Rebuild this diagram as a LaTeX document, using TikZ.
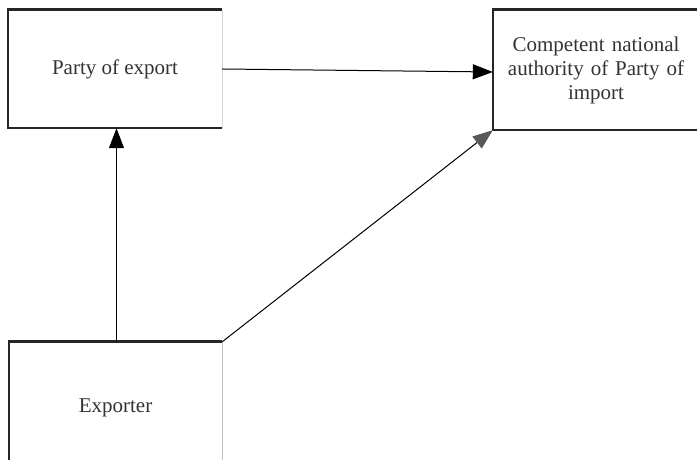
\documentclass[tikz,border=0pt]{standalone}
\usepackage{fontspec}
\setmainfont{Liberation Serif}
\usetikzlibrary{arrows.meta}
\begin{document}
\begin{tikzpicture}[x=1pt,y=1pt,
  box/.style={rectangle,inner sep=0pt,font=\fontsize{21}{24}\selectfont,text=black!80,align=center},
  border/.style={line width=2.6pt,black!85},
  conn/.style={line width=1pt,-{Triangle[length=20pt,width=15pt]}},
  gconn/.style={line width=1pt,-{Triangle[length=20pt,width=15pt,fill=black!65,color=black!65]}}]
\useasboundingbox (0,0) rectangle (697,460);
\clip (0,0) rectangle (697,460);
% Party of export: x 8..222, y 10..128
\node[box,minimum width=214pt,minimum height=118pt] (pe) at (115,391) {Party of export};
% Competent authority: x 493..697, y 10..130
\node[box,minimum width=206pt,minimum height=120pt,text width=200pt] (ca) at (596,390) {Competent national\\authority of Party of\\import};
% Exporter: x 9..222, y 342..474
\node[box,minimum width=213pt,minimum height=132pt] (ex) at (115.5,52) {Exporter};
% borders
\draw[border] (pe.north east) -- (pe.north west) -- (pe.south west) -- (pe.south east);
\draw[border] (ca.north east) -- (ca.north west) -- (ca.south west) -- (ca.south east);
\draw[border] (ex.south west) -- (ex.north west) -- (ex.north east);
\draw[line width=0.6pt,black!25] (ex.north east) -- (ex.south east);
\draw[line width=0.6pt,black!15] (pe.north east) -- (pe.south east);
% connectors
\draw[conn] (pe.east) -- ([yshift=-2pt]ca.west);
\coordinate (exn) at ([xshift=1.5pt]ex.north -| pe.south);
\draw[conn] (exn) -- (exn |- pe.south);
\draw[gconn] (ex.north east) -- (ca.south west);
\end{tikzpicture}
\end{document}
